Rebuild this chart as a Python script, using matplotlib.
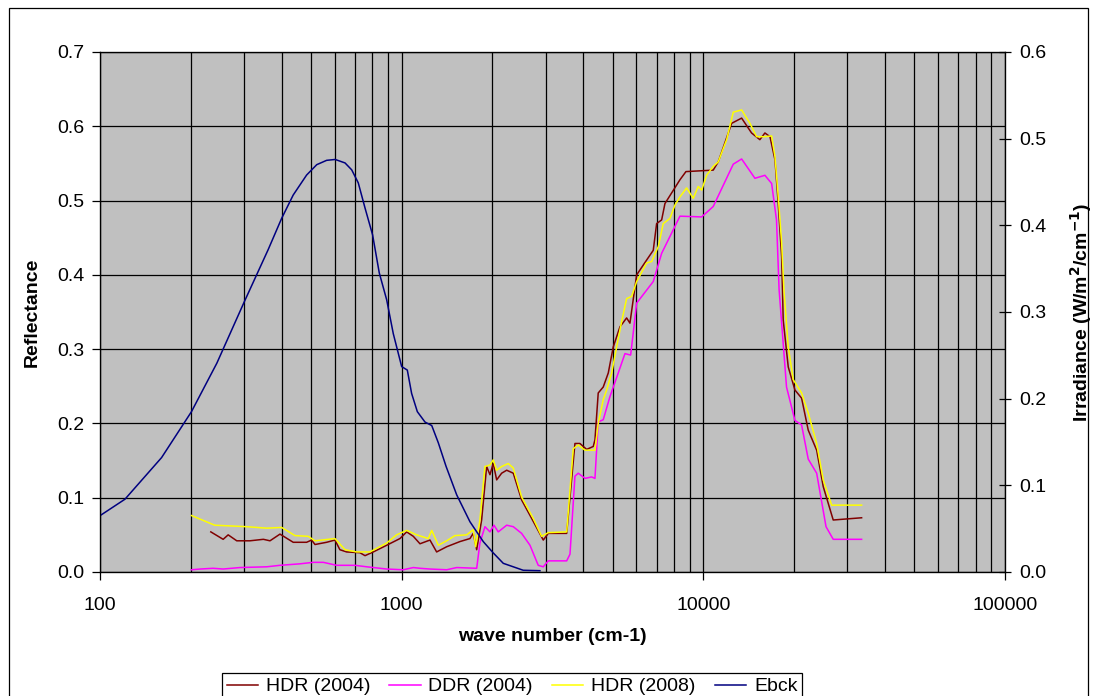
"""Reflectance spectra (HDR / DDR) with blackbody irradiance on a second axis."""
import numpy as np
import matplotlib
matplotlib.use('Agg')
import matplotlib.pyplot as plt
from matplotlib.ticker import FixedLocator, FuncFormatter, FormatStrFormatter, NullFormatter
from matplotlib.patches import Rectangle

plt.rcParams['font.family'] = ['Liberation Sans', 'DejaVu Sans']

# --- HDR (2004): wave number (cm-1), reflectance ---
hdr04_wn = [233, 256, 266, 284, 314, 348, 366, 395, 437, 484, 503, 516, 564, 601, 624,
            657, 727, 756, 805, 892, 987, 1039, 1093, 1150, 1241, 1306, 1410, 1561, 1684,
            1727, 1773, 1841, 1913, 1962, 2012, 2065, 2145, 2229, 2344, 2498, 2731, 2947,
            3061, 3524, 3753, 3899, 4104, 4316, 4373, 4483, 4658, 4841, 5028, 5291, 5568,
            5711, 6012, 6488, 6823, 7001, 7275, 7460, 8365, 8757, 10784, 11203, 12413,
            13395, 14450, 15395, 16000, 16630, 17276, 17718, 18180, 18400, 19120, 20120,
            21170, 22270, 23750, 24970, 26950, 33470]
hdr04_r = [0.054, 0.044, 0.050, 0.042, 0.042, 0.044, 0.042, 0.051, 0.040, 0.040, 0.043,
           0.037, 0.040, 0.043, 0.030, 0.027, 0.026, 0.022, 0.027, 0.036, 0.045, 0.054,
           0.048, 0.038, 0.043, 0.027, 0.034, 0.041, 0.045, 0.052, 0.030, 0.070, 0.142,
           0.131, 0.146, 0.124, 0.133, 0.137, 0.133, 0.097, 0.068, 0.043, 0.052, 0.052,
           0.173, 0.173, 0.165, 0.169, 0.178, 0.241, 0.249, 0.268, 0.303, 0.330, 0.342,
           0.335, 0.400, 0.420, 0.433, 0.469, 0.474, 0.496, 0.528, 0.539, 0.541, 0.552,
           0.604, 0.611, 0.591, 0.582, 0.591, 0.586, 0.555, 0.495, 0.424, 0.339, 0.276,
           0.245, 0.234, 0.191, 0.164, 0.115, 0.070, 0.073]

# --- DDR (2004) ---
ddr04_wn = [201, 215, 237, 256, 291, 357, 395, 460, 509, 550, 609, 700, 766, 892, 1012,
            1093, 1150, 1241, 1410, 1522, 1773, 1817, 1888, 1962, 2023, 2090, 2229, 2344,
            2498, 2663, 2836, 2947, 3061, 3524, 3614, 3753, 3849, 4052, 4262, 4373, 4483,
            4658, 4902, 5224, 5498, 5742, 6012, 6823, 7275, 8365, 9872, 10784, 12566,
            13395, 14826, 16000, 16842, 17480, 17830, 18870, 20120, 21170, 22270, 23750,
            25510, 26950, 33470]
ddr04_r = [0.003, 0.004, 0.005, 0.004, 0.006, 0.007, 0.009, 0.011, 0.013, 0.013, 0.009,
           0.009, 0.007, 0.004, 0.003, 0.006, 0.005, 0.004, 0.003, 0.006, 0.005, 0.039,
           0.061, 0.054, 0.063, 0.054, 0.063, 0.061, 0.052, 0.036, 0.009, 0.007, 0.015,
           0.015, 0.024, 0.129, 0.133, 0.126, 0.128, 0.126, 0.202, 0.205, 0.236, 0.268,
           0.294, 0.292, 0.362, 0.391, 0.429, 0.479, 0.478, 0.492, 0.549, 0.556, 0.530,
           0.534, 0.523, 0.474, 0.380, 0.249, 0.204, 0.198, 0.152, 0.133, 0.061, 0.044,
           0.044]

# --- HDR (2008) ---
hdr08_wn = [201, 240, 306, 357, 400, 443, 490, 516, 601, 649, 709, 785, 892, 962, 1039,
            1121, 1225, 1258, 1323, 1410, 1502, 1643, 1727, 1759, 1817, 1888, 1962, 2012,
            2065, 2145, 2256, 2344, 2498, 2731, 2911, 3061, 3524, 3706, 3849, 4052, 4373,
            4483, 4658, 4781, 4968, 5160, 5360, 5568, 5785, 6012, 6488, 6742, 7089, 7364,
            7750, 8054, 8365, 8804, 9258, 9618, 9872, 10255, 10784, 11203, 11948, 12566,
            13395, 14270, 15019, 16000, 16842, 17276, 17718, 18180, 18500, 19120, 19860,
            21170, 22270, 23750, 24970, 26630, 33470]
hdr08_r = [0.076, 0.063, 0.061, 0.059, 0.060, 0.049, 0.048, 0.042, 0.045, 0.030, 0.027,
           0.027, 0.039, 0.050, 0.056, 0.050, 0.045, 0.056, 0.036, 0.042, 0.049, 0.050,
           0.057, 0.034, 0.070, 0.142, 0.144, 0.151, 0.137, 0.142, 0.146, 0.140, 0.101,
           0.072, 0.048, 0.053, 0.054, 0.166, 0.171, 0.164, 0.164, 0.200, 0.232, 0.245,
           0.268, 0.303, 0.337, 0.368, 0.371, 0.391, 0.416, 0.418, 0.438, 0.469, 0.476,
           0.494, 0.505, 0.517, 0.503, 0.519, 0.514, 0.534, 0.546, 0.552, 0.582, 0.619,
           0.622, 0.604, 0.586, 0.586, 0.587, 0.559, 0.505, 0.443, 0.380, 0.303, 0.259,
           0.241, 0.214, 0.173, 0.124, 0.090, 0.090]

# --- Ebck: irradiance (W/m2/cm-1), right axis ---
ebck_wn = [100, 121, 160, 201, 244, 301, 361, 400, 437, 484, 523, 564, 602, 649, 683,
           718, 756, 801, 843, 892, 938, 1000, 1044, 1079, 1127, 1195, 1258, 1323, 1403,
           1522, 1684, 1865, 2012, 2172, 2344, 2529, 2873]
ebck_e = [0.065, 0.084, 0.132, 0.185, 0.241, 0.312, 0.372, 0.408, 0.435, 0.458, 0.470,
          0.475, 0.476, 0.472, 0.464, 0.449, 0.420, 0.389, 0.345, 0.314, 0.275, 0.237,
          0.233, 0.206, 0.185, 0.173, 0.169, 0.149, 0.122, 0.089, 0.058, 0.035, 0.022,
          0.010, 0.006, 0.002, 0.0015]

FS = 14

fig = plt.figure(figsize=(10.97, 6.96), dpi=100)
ax = fig.add_axes([100 / 1097, 1 - 572 / 696, 905 / 1097, 520 / 696])
ax.set_facecolor('#C0C0C0')

l1, = ax.plot(hdr04_wn, hdr04_r, color='#800000', lw=1.1, label='HDR (2004)')
l2, = ax.plot(ddr04_wn, ddr04_r, color='#FF00FF', lw=1.1, label='DDR (2004)')
l3, = ax.plot(hdr08_wn, hdr08_r, color='#FFFF00', lw=1.1, label='HDR (2008)')

ax.set_xscale('log')
ax.set_xlim(100, 100000)
ax.set_ylim(0, 0.7)
ax.xaxis.set_major_locator(FixedLocator([100, 1000, 10000, 100000]))
ax.xaxis.set_major_formatter(FuncFormatter(lambda v, p: f'{v:.0f}'))
minors = [m * 10 ** e for e in range(2, 5) for m in range(2, 10)]
ax.xaxis.set_minor_locator(FixedLocator(minors))
ax.xaxis.set_minor_formatter(NullFormatter())
ax.yaxis.set_major_locator(FixedLocator(np.arange(0, 0.71, 0.1)))
ax.yaxis.set_major_formatter(FormatStrFormatter('%.1f'))
ax.set_axisbelow(True)
ax.grid(True, which='major', color='black', lw=0.9)
ax.grid(True, which='minor', axis='x', color='black', lw=0.9)
ax.tick_params(axis='x', which='minor', length=0)
ax.tick_params(axis='both', which='major', labelsize=FS, length=6, width=0.9, direction='out')
ax.tick_params(axis='x', which='major', pad=12)
ax.tick_params(axis='y', which='major', pad=5)
for sp in ax.spines.values():
    sp.set_color('black')
    sp.set_linewidth(0.9)

ax.set_xlabel('wave number (cm-1)', fontsize=FS, fontweight='bold', labelpad=10)
ax.set_ylabel('Reflectance', fontsize=FS, fontweight='bold', labelpad=12)

ax2 = ax.twinx()
l4, = ax2.plot(ebck_wn, ebck_e, color='#000080', lw=1.1, label='Ebck')
ax2.set_ylim(0, 0.6)
ax2.yaxis.set_major_locator(FixedLocator(np.arange(0, 0.61, 0.1)))
ax2.yaxis.set_major_formatter(FormatStrFormatter('%.1f'))
ax2.tick_params(axis='y', labelsize=FS, length=8, width=0.9, direction='inout', pad=6)
ax2.set_ylabel(r'Irradiance (W/m$^\mathbf{2}$/cm$^\mathbf{-1}$)', fontsize=FS,
               fontweight='bold', labelpad=16)

leg = fig.legend(handles=[l1, l2, l3, l4], loc='upper center', ncol=4,
                 bbox_to_anchor=(512 / 1097, 1 - 673 / 696), fontsize=FS,
                 frameon=True, fancybox=False, edgecolor='black', framealpha=1,
                 handlelength=1.6, handletextpad=0.4, columnspacing=1.0,
                 borderpad=0.25, borderaxespad=0)
leg.get_frame().set_linewidth(0.9)

fig.patches.append(Rectangle((9 / 1097, -0.02), 1079 / 1097, 1.02 - 8 / 696,
                             transform=fig.transFigure, fill=False,
                             edgecolor='black', lw=0.9))

fig.savefig('out.png', dpi=100)
